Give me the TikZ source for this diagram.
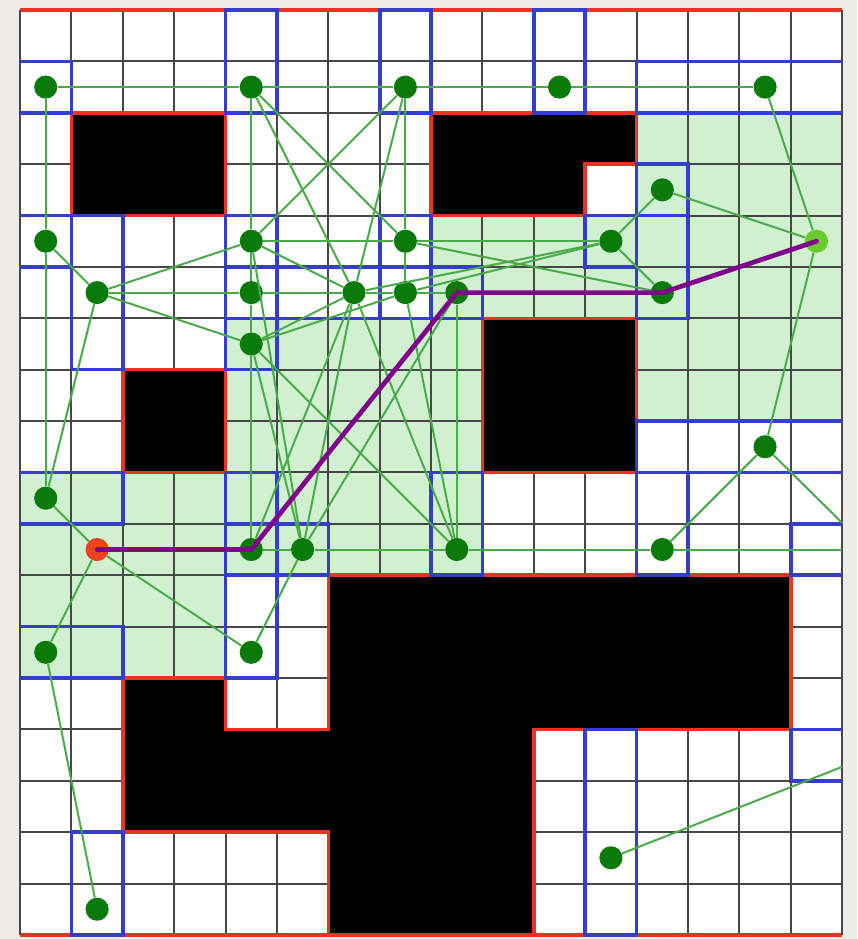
\documentclass[tikz,border=0pt]{standalone}
\usepackage{tikz}
\definecolor{bgpaper}{RGB}{238,235,232}
\definecolor{freegreen}{RGB}{208,240,208}
\definecolor{obsred}{RGB}{232,52,32}
\definecolor{boxblue}{RGB}{52,62,200}
\definecolor{nodegreen}{RGB}{10,122,10}
\definecolor{linkgreen}{RGB}{72,170,72}
\definecolor{routepurple}{RGB}{128,0,140}
\definecolor{startred}{RGB}{236,66,30}
\definecolor{goalgreen}{RGB}{104,202,44}

\begin{document}
\begin{tikzpicture}[x=1cm,y=-1cm,
  gridline/.style={draw=black!72,line width=1.1pt},
  wall/.style={fill=black,draw=obsred,line width=2pt},
  cellbox/.style={draw=boxblue,line width=2pt},
  pt/.style={circle,fill=nodegreen,inner sep=0pt,minimum size=0.45cm},
  link/.style={draw=linkgreen,line width=1.1pt},
  route/.style={draw=routepurple,line width=2.6pt,line join=round,line cap=round}]
\useasboundingbox (-0.39,-0.195) rectangle (16.29,18.08);
\fill[bgpaper] (-0.39,-0.195) rectangle (16.29,18.08);
\fill[white] (0,0) rectangle (16,18);
\fill[freegreen] (12,2) rectangle (16,8);
\fill[freegreen] (8,4) rectangle (12,6);
\fill[freegreen] (4,6) rectangle (9,11);
\fill[freegreen] (0,9) rectangle (4,13);
\foreach \i in {1,...,15} \draw[gridline] (\i,0) -- (\i,18);
\foreach \j in {1,...,17} \draw[gridline] (0,\j) -- (16,\j);
% obstacles
\filldraw[wall] (1,2) rectangle (4,4);
\filldraw[wall] (8,2) -- (12,2) -- (12,3) -- (11,3) -- (11,4) -- (8,4) -- cycle;
\filldraw[wall] (2,7) rectangle (4,9);
\filldraw[wall] (9,6) rectangle (12,9);
\filldraw[wall] (6,11) -- (15,11) -- (15,14) -- (10,14) -- (10,18) -- (6,18) -- (6,16) -- (2,16) -- (2,13) -- (4,13) -- (4,14) -- (6,14) -- cycle;
\draw[obsred,line width=2pt] (0,0) -- (16,0);
\draw[obsred,line width=2pt] (0,18) -- (16,18);
\draw[gridline] (0,0) -- (0,18);
\draw[gridline] (16,0) -- (16,18);
% cells
\begin{scope}
\clip (0,-0.1) rectangle (16,18.1);
\foreach \a/\b/\c/\d in {-0.2/1/1/2, 4/0/5/2, 7/0/8/2, 10/0/11/2, 12/1/16.2/2, 12/3/13/4,
  -0.2/4/1/5, 1/4/2/7, 4/4/5/5, 4/5/5/6, 4/6/5/7, 5/5/7/6, 7/4/8/5, 7/5/8/6, 8/5/9/6,
  11/4/12/5, 12/4/13/6, 12/8/16.2/9, -0.2/9/2/10, 4/9/5/10, 4/10/5/11, 5/10/6/11,
  8/9/9/11, 12/9/13/11, 15/10/16.2/11, -0.2/12/2/13, 4/11/5/13, 1/16/2/18,
  11/14/12/18, 15/14/16.2/15}
  \draw[cellbox] (\a,\b) rectangle (\c,\d);
\end{scope}
% samples
\node[pt] (n1) at (0.5,1.5) {};
\node[pt] (n2) at (4.5,1.5) {};
\node[pt] (n3) at (7.5,1.5) {};
\node[pt] (n4) at (10.5,1.5) {};
\node[pt] (n5) at (14.5,1.5) {};
\node[pt] (n6) at (12.5,3.5) {};
\node[pt] (n7) at (0.5,4.5) {};
\node[pt] (n8) at (4.5,4.5) {};
\node[pt] (n9) at (7.5,4.5) {};
\node[pt] (n10) at (11.5,4.5) {};
\node[pt,fill=goalgreen] (g) at (15.5,4.5) {};
\node[pt] (n11) at (1.5,5.5) {};
\node[pt] (n12) at (4.5,5.5) {};
\node[pt] (n13) at (6.5,5.5) {};
\node[pt] (n14) at (7.5,5.5) {};
\node[pt] (n15) at (8.5,5.5) {};
\node[pt] (n16) at (12.5,5.5) {};
\node[pt] (n17) at (4.5,6.5) {};
\node[pt] (n18) at (14.5,8.5) {};
\node[pt] (n19) at (0.5,9.5) {};
\node[pt,fill=startred] (s) at (1.5,10.5) {};
\node[pt] (n20) at (4.5,10.5) {};
\node[pt] (n21) at (5.5,10.5) {};
\node[pt] (n22) at (8.5,10.5) {};
\node[pt] (n23) at (12.5,10.5) {};
\node[pt] (n24) at (0.5,12.5) {};
\node[pt] (n25) at (4.5,12.5) {};
\node[pt] (n26) at (1.5,17.5) {};
\node[pt] (n27) at (11.5,16.5) {};
\coordinate (o1) at (16,10.5);
\coordinate (o2) at (16,9.98);
\coordinate (o3) at (16,14.73);
\foreach \a/\b in {n1/n2, n2/n3, n3/n4, n4/n5, n1/n7, n7/n19, n2/n8, n8/n12, n12/n17, n17/n20,
  n3/n9, n9/n14, n15/n22, n2/n9, n3/n8, n2/n13, n3/n13, n8/n9, n9/n10, n8/n11, n8/n13,
  n5/g, n6/g, n6/n10, n10/n16, n9/n16, n10/n13, n10/n14, g/n16, g/n18,
  n7/n11, n11/n19, n11/n12, n12/n13, n13/n14, n14/n15, n15/n16, n11/n17, n13/n17, n17/n14,
  n13/n20, n13/n21, n13/n22, n14/n22, n15/n21, n17/n21, n17/n22, n8/n21, n15/n20,
  n19/s, s/n20, s/n24, s/n25, n20/n21, n21/n22, n22/n23, n23/o1, n21/n25,
  n18/n23, n18/o2, n24/n26, n27/o3}
  \draw[link] (\a) -- (\b);
\draw[route] (s.center) -- (n20.center) -- (n15.center) -- (n16.center) -- (g.center);
\end{tikzpicture}
\end{document}
